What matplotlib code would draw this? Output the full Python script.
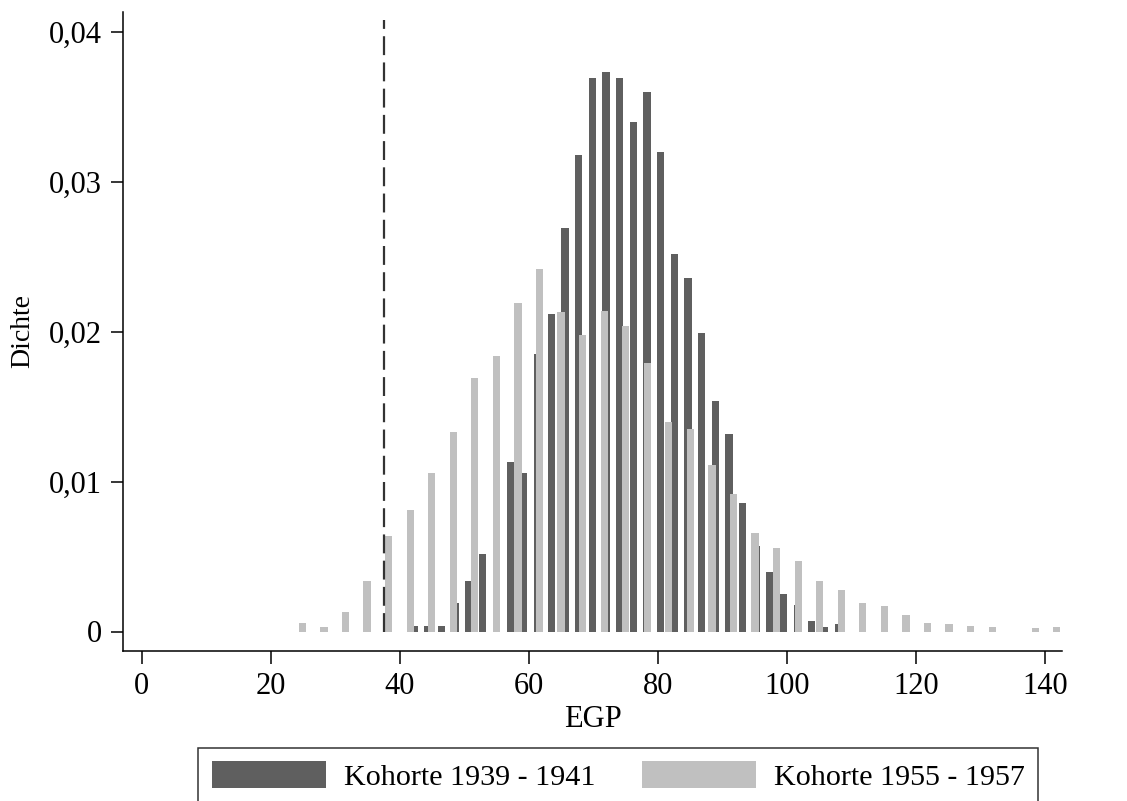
import numpy as np
import matplotlib
matplotlib.use("Agg")
import matplotlib.pyplot as plt
from matplotlib.patches import Patch
from matplotlib.ticker import FuncFormatter

plt.rcParams['font.family'] = ['Liberation Serif', 'DejaVu Serif']

# Kohorte 1939 - 1941 (bin start, bin width, densities)
old_start = 42.25
old_width = 2.12
old_density = [0.0004, 0.0004, 0.0004, 0.0019, 0.0034, 0.0052, 0.0085, 0.0113,
               0.0106, 0.0185, 0.0212, 0.0269, 0.0318, 0.0369, 0.0373, 0.0369,
               0.0340, 0.0360, 0.0320, 0.0252, 0.0236, 0.0199, 0.0154, 0.0132,
               0.0086, 0.0057, 0.0040, 0.0025, 0.0018, 0.0007, 0.0003, 0.0005]

# Kohorte 1955 - 1957
young_start = 24.9
young_width = 3.34
young_density = [0.00055, 0.00027, 0.0013, 0.0034, 0.0064, 0.0081, 0.0106, 0.0133,
                 0.0169, 0.0184, 0.0219, 0.0242, 0.0213, 0.0198, 0.0214, 0.0204,
                 0.0179, 0.0140, 0.0135, 0.0111, 0.0092, 0.0066, 0.0056, 0.0047,
                 0.0034, 0.0028, 0.0019, 0.0017, 0.0011, 0.00056, 0.00049, 0.00036,
                 0.00029, 0.0, 0.00022, 0.00029]

cutoff = 37.5
labels = ["Kohorte 1939 - 1941", "Kohorte 1955 - 1957"]
dark = '#5f5f5f'
light = '#c0c0c0'

old_x = old_start + old_width * np.arange(len(old_density))
young_x = young_start + young_width * np.arange(len(young_density))

fig = plt.figure(figsize=(11.27, 8.01), dpi=100)
ax = fig.add_axes([123/1127, 1 - 651/801, (1062 - 123)/1127, (651 - 12)/801])

bw = 1.13
ax.bar(old_x, old_density, width=bw, color=dark, linewidth=0)
ax.bar(young_x, young_density, width=bw, color=light, linewidth=0)
ax.vlines(cutoff, 0, 0.0408, colors='#333333', linewidth=1.6,
          linestyles=(0, (8.5, 3.3)))

ax.set_xlim(-2.9, 142.6)
ax.set_ylim(-0.0013, 0.0413)
ax.set_xticks(np.arange(0, 141, 20))
ax.set_yticks([0, 0.01, 0.02, 0.03, 0.04])
ax.yaxis.set_major_formatter(FuncFormatter(
    lambda v, p: '0' if abs(v) < 1e-9 else f'{v:.2f}'.replace('.', ',')))

for s in ['top', 'right']:
    ax.spines[s].set_visible(False)
for s in ['left', 'bottom']:
    ax.spines[s].set_linewidth(1.1)
ax.tick_params(length=9, width=1.1, labelsize=22, pad=6)

ax.set_xlabel("EGP", fontsize=22, labelpad=3)
ax.set_ylabel("Dichte", fontsize=20, labelpad=10)

handles = [Patch(facecolor=dark), Patch(facecolor=light)]
leg = fig.legend(handles, labels, ncol=2, loc='upper left',
                 bbox_to_anchor=(198/1127, 1 - 748/801), fontsize=21.6,
                 frameon=True, fancybox=False, edgecolor='black',
                 borderpad=0.45, handlelength=3.8, handleheight=1.0,
                 handletextpad=0.6, columnspacing=1.55, borderaxespad=0)
leg.get_frame().set_linewidth(1.1)

fig.savefig("out.png", dpi=100)
